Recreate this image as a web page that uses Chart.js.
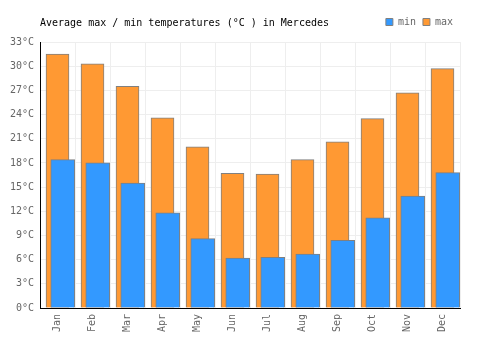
<!DOCTYPE html>
<html>
<head>
<meta charset="utf-8">
<script src="https://cdn.jsdelivr.net/npm/chart.js@4"></script>
<style>
  html, body { margin: 0; padding: 0; background: #fff; }
  canvas { display: block; }
</style>
</head>
<body>
<canvas id="chart" width="500" height="350"></canvas>
<script>
var months = ['Jan', 'Feb', 'Mar', 'Apr', 'May', 'Jun', 'Jul', 'Aug', 'Sep', 'Oct', 'Nov', 'Dec'];
var maxTemps = [31.5, 30.3, 27.5, 23.6, 20.0, 16.7, 16.6, 18.4, 20.6, 23.5, 26.7, 29.7];
var minTemps = [18.4, 18.0, 15.5, 11.8, 8.6, 6.2, 6.3, 6.7, 8.4, 11.2, 13.9, 16.8];
var yTicks = [0, 3, 6, 9, 12, 15, 18, 21, 24, 27, 30, 33];
var titleText = 'Average max / min temperatures (°C ) in Mercedes';

var FONT = "'DejaVu Sans Mono', monospace";

// min bars sit a little to the right of the max bars
var minShift = 0.15;

function points(values, shift) {
  return values.map(function (v, i) { return { x: i + shift, y: v }; });
}

// title drawn on the same row as the legend
var titlePlugin = {
  id: 'rowTitle',
  afterDraw: function (chart) {
    var ctx = chart.ctx;
    ctx.save();
    ctx.font = '10px ' + FONT;
    ctx.fillStyle = '#000';
    ctx.textBaseline = 'alphabetic';
    ctx.textAlign = 'left';
    ctx.fillText(titleText, 40, 26);
    ctx.restore();
  }
};

new Chart(document.getElementById('chart'), {
  type: 'bar',
  data: {
    labels: months,
    datasets: [
      {
        label: 'min',
        data: points(minTemps, minShift),
        xAxisID: 'xl',
        backgroundColor: '#3399ff',
        borderColor: '#808080',
        borderWidth: 1,
        barThickness: 24,
        grouped: false
      },
      {
        label: 'max',
        data: points(maxTemps, 0),
        xAxisID: 'xl',
        backgroundColor: '#ff9933',
        borderColor: '#808080',
        borderWidth: 1,
        barThickness: 23,
        grouped: false
      }
    ]
  },
  options: {
    responsive: false,
    animation: false,
    layout: { padding: { top: 10, right: 40, left: 0, bottom: 0 } },
    plugins: {
      title: { display: false },
      tooltip: { enabled: false },
      legend: {
        position: 'top',
        align: 'end',
        labels: {
          boxWidth: 7,
          boxHeight: 7,
          padding: 7,
          color: '#666',
          font: { family: FONT, size: 10 }
        }
      }
    },
    scales: {
      x: {
        type: 'category',
        offset: true,
        grid: { offset: true, color: '#eeeeee', drawTicks: false },
        border: { color: '#000', width: 1 },
        ticks: {
          color: '#666',
          font: { family: FONT, size: 10 },
          minRotation: 90,
          maxRotation: 90,
          padding: 6
        },
        afterFit: function (scale) { scale.height = 42; }
      },
      xl: {
        type: 'linear',
        position: 'top',
        offset: false,
        min: -0.5,
        max: 11.5,
        ticks: { display: false },
        grid: { display: false, offset: false },
        border: { display: false },
        afterFit: function (scale) { scale.height = 5; }
      },
      y: {
        min: 0,
        max: 33,
        afterBuildTicks: function (scale) {
          scale.ticks = yTicks.map(function (v) { return { value: v }; });
        },
        grid: { color: '#eeeeee', drawTicks: false },
        border: { color: '#000', width: 1 },
        ticks: {
          color: '#666',
          padding: 6,
          font: { family: FONT, size: 10 },
          callback: function (v) { return v + '°C'; }
        },
        afterFit: function (scale) { scale.width = 40; }
      }
    }
  },
  plugins: [titlePlugin]
});
</script>
</body>
</html>
